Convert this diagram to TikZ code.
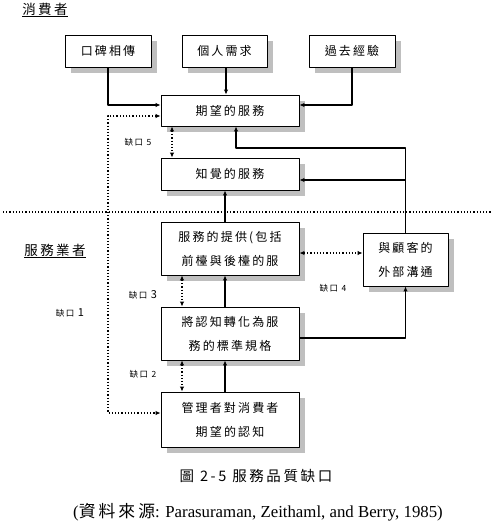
\documentclass[tikz,border=0pt]{standalone}
\usepackage{fontspec}
\setmainfont{Liberation Serif}
\newfontfamily\cjk[LetterSpace=18]{Noto Sans CJK TC}
\usetikzlibrary{arrows.meta,shadows}

\tikzset{
  box/.style={draw, fill=white, line width=0.9pt, align=center, inner sep=2pt,
    font=\cjk\fontsize{12}{24}\selectfont,
    drop shadow={shadow xshift=6pt, shadow yshift=-6pt, fill=black!25, opacity=1}},
  link/.style={line width=1.2pt, -{Latex[length=5pt,width=4.5pt]}},
  gap/.style={line width=1.2pt, dotted, {Latex[length=5pt,width=4.5pt]}-{Latex[length=5pt,width=4.5pt]}},
  gaplabel/.style={font=\cjk\fontsize{8.5}{10}\selectfont, inner sep=1pt},
  side/.style={font=\cjk\fontsize{13.5}{15}\selectfont, inner sep=1pt}
}

\begin{document}
\begin{tikzpicture}[x=1pt, y=-1pt, line join=round]

  % ── 消費者 這一側 ──
  \node[box, minimum width=86pt, minimum height=32pt] (wom)  at (108,51)   {口碑相傳};
  \node[box, minimum width=85pt, minimum height=32pt] (need) at (224.5,51) {個人需求};
  \node[box, minimum width=86pt, minimum height=32pt] (past) at (352,51)   {過去經驗};
  \node[box, minimum width=138pt, minimum height=31pt] (expect)   at (230,110.5) {期望的服務};
  \node[box, minimum width=138pt, minimum height=32pt] (perceive) at (230,174)   {知覺的服務};

  % ── 服務業者 這一側 ──
  \node[box, minimum width=138pt, minimum height=53pt] (deliver) at (230,248.5) {服務的提供(包括\\前檯與後檯的服};
  \node[box, minimum width=85pt,  minimum height=53pt] (ext)     at (405.5,259.5) {與顧客的\\外部溝通};
  \node[box, minimum width=138pt, minimum height=53pt] (spec)    at (230,333.5) {將認知轉化為服\\務的標準規格};
  \node[box, minimum width=138pt, minimum height=55pt] (mgmt)    at (230,419.5) {管理者對消費者\\期望的認知};

  % 轉折點
  \coordinate (main) at (225,0);   % 實線主幹
  \coordinate (dl)   at (182,0);   % 缺口 2、3
  \coordinate (d5)   at (172,0);   % 缺口 5
  \coordinate (fb)   at (236,148); % 外部溝通回饋
  \coordinate (g1)   at (108,0);   % 缺口 1

  % ── 分界虛線 ──
  \coordinate (sepL) at (3,212);
  \coordinate (sepR) at (492,212);
  \draw[line width=1.2pt, dotted] (sepL) -- (sepR);

  % ── 實線箭頭 ──
  \draw[link] (wom.south) |- ([yshift=5.5pt]expect.west);
  \draw[link] (need.south -| 226,0) -- (expect.north -| 226,0);
  \draw[link] (past.south) |- ([yshift=5.5pt]expect.east);
  \draw[link] (deliver.north -| main) -- (perceive.south -| main);
  \draw[link] (ext.north) |- (fb) -- (fb |- expect.south);
  \draw[link] (ext.north |- 0,180) -- (perceive.east |- 0,180);
  \draw[link] (spec.north -| main) -- (deliver.south -| main);
  \draw[link] (spec.east |- 0,338) -| (ext.south);
  \draw[link] (mgmt.north -| main) -- (spec.south -| main);

  % ── 缺口（虛線雙向箭頭）──
  \draw[gap] (expect.south -| d5) -- (perceive.north -| d5);
  \draw[gap] (deliver.east |- 0,253) -- (ext.west |- 0,253);
  \draw[gap] (deliver.south -| dl) -- (spec.north -| dl);
  \draw[gap] (spec.south -| dl) -- (mgmt.north -| dl);
  \draw[gap] (expect.west |- 0,116) -| (g1 |- 0,413) -- (mgmt.west |- 0,413);

  \node[gaplabel] (gap5) at (138,142) {缺口 5};
  \node[gaplabel] (gap4) at (333,288) {缺口 4};
  \node[gaplabel] (gap3) at (143,295) {缺口 {\fontsize{11}{12}\selectfont 3}};
  \node[gaplabel] (gap2) at (143,374) {缺口 2};
  \node[gaplabel] (gap1) at (70,313)  {缺口 {\fontsize{11}{12}\selectfont 1}};

  % ── 兩側標題 ──
  \node[side] (consumer) at (45,10)  {\underline{消費者}};
  \node[side] (provider) at (55,251) {\underline{服務業者}};

  % ── 圖說與來源 ──
  \node[font=\cjk\fontsize{14.5}{16}\selectfont] (caption) at (256,476) {圖 2-5 服務品質缺口};
  \node[font=\fontsize{16.8}{18}\selectfont] (source) at (258,512)
    {({\cjk 資料來源}: Parasuraman, Zeithaml, and Berry, 1985)};

  \pgfresetboundingbox
  \path[use as bounding box] (0,0) rectangle (496,532);
\end{tikzpicture}
\end{document}
